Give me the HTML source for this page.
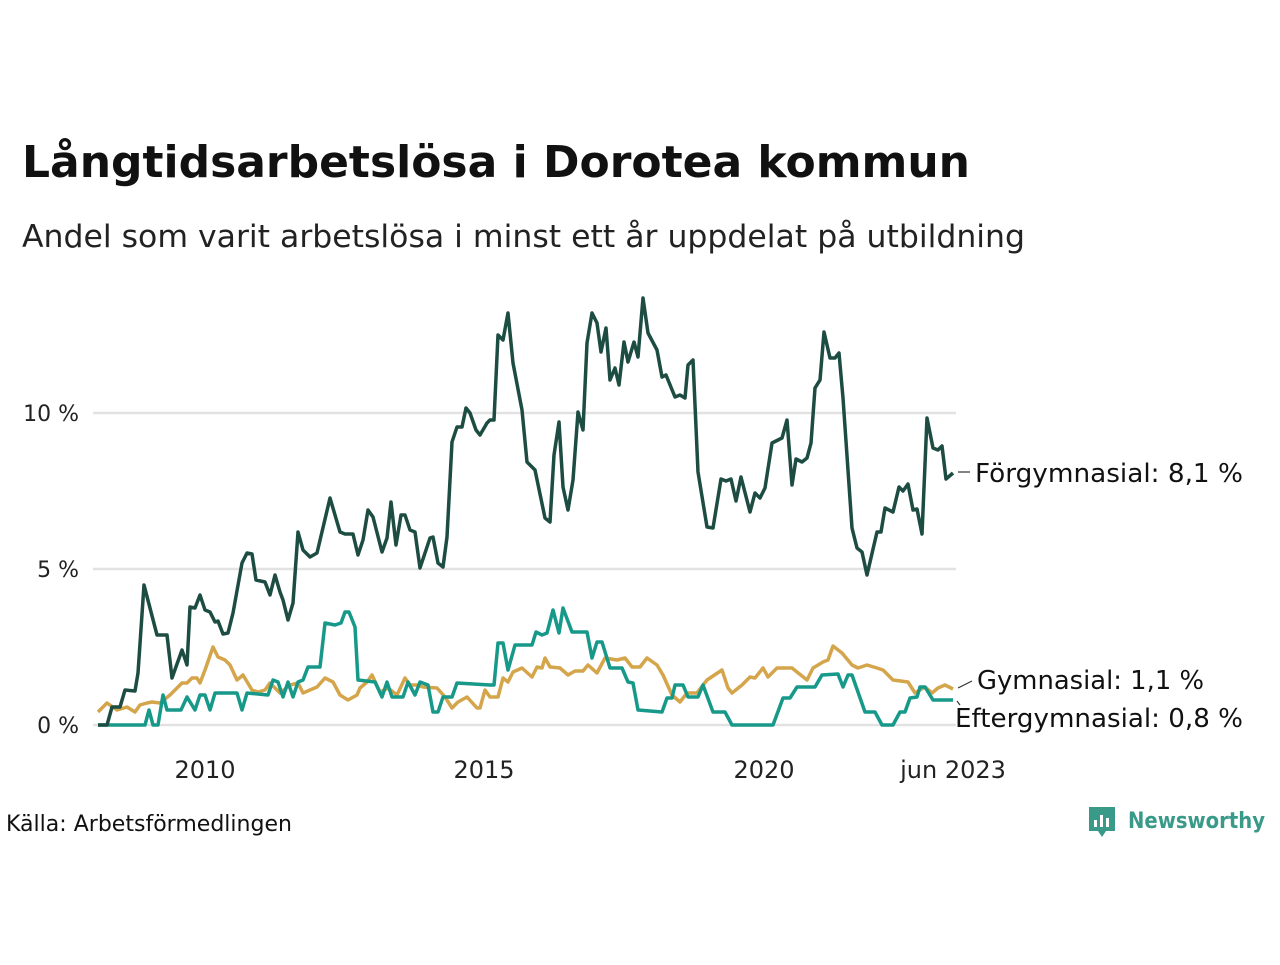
<!DOCTYPE html>
<html><head><meta charset="utf-8"><style>
body{margin:0;background:#fff;width:1280px;height:960px;overflow:hidden;font-family:"Liberation Sans","DejaVu Sans",sans-serif;}
</style></head><body>
<svg width="1280" height="960" xmlns="http://www.w3.org/2000/svg" font-family="'DejaVu Sans','Liberation Sans',sans-serif">
<text x="22" y="177" font-size="44" font-weight="bold" fill="#111" textLength="948" lengthAdjust="spacingAndGlyphs">Långtidsarbetslösa i Dorotea kommun</text>
<text x="22" y="247" font-size="31" fill="#222" textLength="1003" lengthAdjust="spacingAndGlyphs">Andel som varit arbetslösa i minst ett år uppdelat på utbildning</text>
<g stroke="#e2e2e2" stroke-width="2.5">
<line x1="93" y1="413" x2="956" y2="413"/><line x1="93" y1="569" x2="956" y2="569"/><line x1="93" y1="725" x2="956" y2="725"/>
</g>
<g font-size="22" fill="#222" text-anchor="end">
<text x="79" y="421">10 %</text><text x="79" y="577">5 %</text><text x="79" y="733">0 %</text>
</g>
<g font-size="24" fill="#222" text-anchor="middle">
<text x="205" y="778">2010</text><text x="484" y="778">2015</text><text x="764" y="778">2020</text><text x="953" y="778">jun 2023</text>
</g>
<g fill="none" stroke-width="3.5" stroke-linejoin="round">
<polyline stroke="#d4a54b" points="98,712 107,703 117,710 127,707 135,712 140,705 147,703 152,702 160,703 170,695 182,683 187,683 192,678 197,678 200,683 205,670 213,647 218,657 225,660 230,665 237,680 243,675 252,690 258,692 265,690 270,683 280,693 290,685 298,683 303,693 317,687 325,678 333,682 340,695 348,700 357,695 360,688 367,682 372,675 380,692 388,688 397,695 405,678 410,685 418,685 423,687 437,688 445,697 452,708 458,702 467,697 477,708 480,708 485,690 490,697 498,697 503,678 508,682 513,672 522,668 532,677 537,667 542,668 545,658 550,667 560,668 568,675 575,671 583,671 588,665 597,673 605,658 617,660 625,658 632,667 640,667 647,658 657,665 663,675 672,695 680,702 687,693 697,693 707,680 722,670 728,688 732,693 742,685 750,677 755,678 763,668 768,677 777,668 792,668 807,680 813,668 823,662 828,660 833,646 842,653 852,665 858,668 867,665 877,668 883,670 893,680 908,682 915,693 925,687 932,693 938,688 945,685 953,689"/>
<polyline stroke="#17998a" points="98,725 145,725 149,710 153,725 158,725 163,695 167,710 181,710 187,697 195,710 200,695 205,695 210,710 215,693 237,693 242,710 247,693 268,695 273,680 278,682 283,697 288,682 293,697 298,682 303,680 308,667 320,667 325,623 335,625 341,623 345,612 349,612 355,627 358,680 375,682 382,697 387,682 392,697 403,697 408,682 415,695 420,682 428,685 433,712 438,712 443,697 452,697 457,683 490,685 494,685 498,643 503,643 508,670 515,645 532,645 536,632 542,635 547,633 553,610 559,633 563,608 572,632 587,632 592,658 597,642 602,642 610,668 622,668 628,682 633,683 638,710 662,712 667,698 672,698 675,685 683,685 688,697 698,697 703,685 713,712 725,712 732,725 773,725 783,698 790,698 797,687 815,687 822,675 838,674 843,687 848,675 852,675 865,712 875,712 882,725 893,725 900,712 905,712 910,698 917,697 920,687 925,687 933,700 953,700"/>
<polyline stroke="#1d4c42" points="98,725 107,725 112,707 120,707 125,690 135,691 138,673 144,585 157,635 167,635 172,678 182,650 187,665 190,607 195,608 200,595 205,610 210,612 215,622 218,621 223,634 228,633 233,613 242,563 247,553 252,554 256,580 265,582 270,595 275,575 280,592 283,600 288,620 293,603 298,532 303,550 310,557 317,553 330,498 340,532 345,534 353,534 358,555 363,540 368,510 373,517 382,552 387,538 391,502 396,545 401,515 405,515 410,530 415,532 420,568 425,553 430,538 433,537 438,563 443,567 447,537 452,442 457,427 462,427 466,408 470,413 476,430 480,435 487,423 490,420 494,420 498,335 503,340 508,313 513,363 522,410 527,462 535,470 545,518 550,522 554,455 559,422 563,487 568,510 573,480 578,412 583,430 587,343 592,313 597,323 601,352 606,328 610,380 615,368 619,385 624,342 628,362 634,342 638,357 643,298 648,333 657,350 662,377 666,375 675,397 680,395 685,398 688,365 693,360 698,472 707,527 713,528 721,479 726,481 731,479 736,501 741,477 750,512 755,493 760,498 765,488 772,443 782,438 787,420 792,485 796,459 802,462 807,458 811,443 815,388 820,380 824,332 830,358 835,358 839,353 843,398 852,528 857,548 862,552 867,575 877,532 881,532 885,508 893,512 899,487 903,491 908,484 913,510 917,509 922,534 927,418 933,448 938,450 942,446 946,479 953,473"/>
</g>
<g stroke="#333" stroke-width="1.2">
<line x1="958" y1="472" x2="970" y2="472"/>
<line x1="958" y1="688" x2="972" y2="681"/>
<line x1="957" y1="701" x2="960" y2="705"/>
</g>
<g font-size="26" fill="#111">
<text x="975" y="482" textLength="268" lengthAdjust="spacingAndGlyphs">Förgymnasial: 8,1 %</text>
<text x="977" y="689" textLength="227" lengthAdjust="spacingAndGlyphs">Gymnasial: 1,1 %</text>
<text x="955" y="727" textLength="288" lengthAdjust="spacingAndGlyphs">Eftergymnasial: 0,8 %</text>
</g>
<text x="6" y="831" font-size="22" fill="#111" textLength="286" lengthAdjust="spacingAndGlyphs">Källa: Arbetsförmedlingen</text>
<g>
<path d="M1089,807 h26 v24 h-9 l-4,6 l-4,-6 h-9 z" fill="#3a9a8a"/>
<rect x="1094" y="820" width="3" height="7" fill="#fff"/><rect x="1100" y="815" width="3" height="12" fill="#fff"/><rect x="1106" y="818" width="3" height="9" fill="#fff"/>
<text x="1128" y="828" font-size="22" font-weight="bold" fill="#3a9a8a" textLength="137" lengthAdjust="spacingAndGlyphs">Newsworthy</text>
</g>
</svg>
</body></html>
